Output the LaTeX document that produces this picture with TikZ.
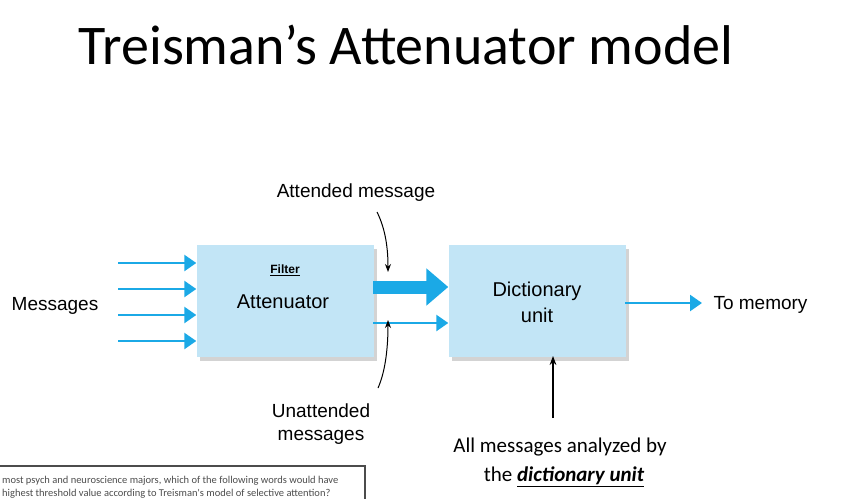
\documentclass[tikz,border=0pt]{standalone}
\usepackage{fontspec}
\setmainfont{Liberation Sans}
\newfontfamily\carl{Carlito}
\usetikzlibrary{arrows.meta,shadows}
\definecolor{boxblue}{HTML}{C2E5F6}
\definecolor{arrblue}{HTML}{1BA9E6}
\begin{document}
\begin{tikzpicture}[x=1pt,y=-1pt,
  blk/.style={fill=boxblue,minimum width=177pt,minimum height=112pt,inner sep=0pt,drop shadow={shadow xshift=3pt,shadow yshift=-4pt,opacity=0.35}},
  inarr/.style={draw=arrblue,line width=2.5pt,-{Triangle[length=12pt,width=16pt]}},
  bigarr/.style={draw=arrblue,line width=13pt,-{Triangle[length=22pt,width=36pt]}},
  lbl/.style={font=\fontsize{19}{23}\selectfont,align=center},
  curv/.style={draw=black,line width=1pt,-{Stealth[length=8pt]}}]
\useasboundingbox (0,0) rectangle (842,498);
\node[font=\carl\fontsize{56}{60}\selectfont] (title) at (406,45) {Treisman’s Attenuator model};
\node[blk] (att) at (285,301) {};
\node[blk] (dict) at (537,301) {};
\node[font=\bfseries\fontsize{12}{13}\selectfont] (filt) at (285,270) {\underline{Filter}};
\node[lbl,font=\fontsize{20}{24}\selectfont] (attl) at (283,302) {Attenuator};
\node[lbl,font=\fontsize{20}{26}\selectfont] (dictl) at (537,302) {Dictionary\\unit};
\node[lbl] (msg) at (55,306) {Messages};
\foreach \y/\n in {263/a,289/b,315/c,341/d}{
  \coordinate (s\n) at (118,\y);
  \draw[inarr] (s\n) -- (s\n -| att.west);
}
\coordinate (thk) at (373,287);
\draw[bigarr] (thk) -- (thk -| dict.west);
\coordinate (thn) at (373,323);
\draw[inarr] (thn) -- (thn -| dict.west);
\coordinate (mem0) at (625,303);
\coordinate (mem1) at (702,303);
\draw[inarr] (mem0) -- (mem1);
\node[lbl,anchor=west] (mem) at (710,305) {To memory};
\node[lbl] (attm) at (356,193) {Attended message};
\coordinate (a0) at (377,212);
\coordinate (a1) at (388,272);
\draw[curv] (a0) .. controls (386,230) and (388,250) .. (a1);
\node[lbl] (unatt) at (321,424) {Unattended\\messages};
\coordinate (u0) at (378,388);
\coordinate (u1) at (388,320);
\draw[curv] (u0) .. controls (386,370) and (388,345) .. (u1);
\coordinate (v0) at (553,418);
\draw[line width=1.4pt,-{Stealth[length=9pt]}] (v0) -- (553,356);
\node[font=\carl\fontsize{21}{24}\selectfont,align=center] (all) at (560,447) {All messages analyzed by};
\node[font=\carl\fontsize{21}{24}\selectfont] (the) at (564,477) {the \textbf{\textit{\underline{dictionary unit}}}};
\draw[line width=1.4pt,draw=black!70] (-2,466) -- (365,466) -- (365,500);
\node[font=\carl\fontsize{10.5}{13}\selectfont,anchor=west,text=black!70,align=left,inner sep=0pt] (q) at (2,487) {most psych and neuroscience majors, which of the following words would have\\highest threshold value according to Treisman's model of selective attention?};
\end{tikzpicture}
\end{document}
